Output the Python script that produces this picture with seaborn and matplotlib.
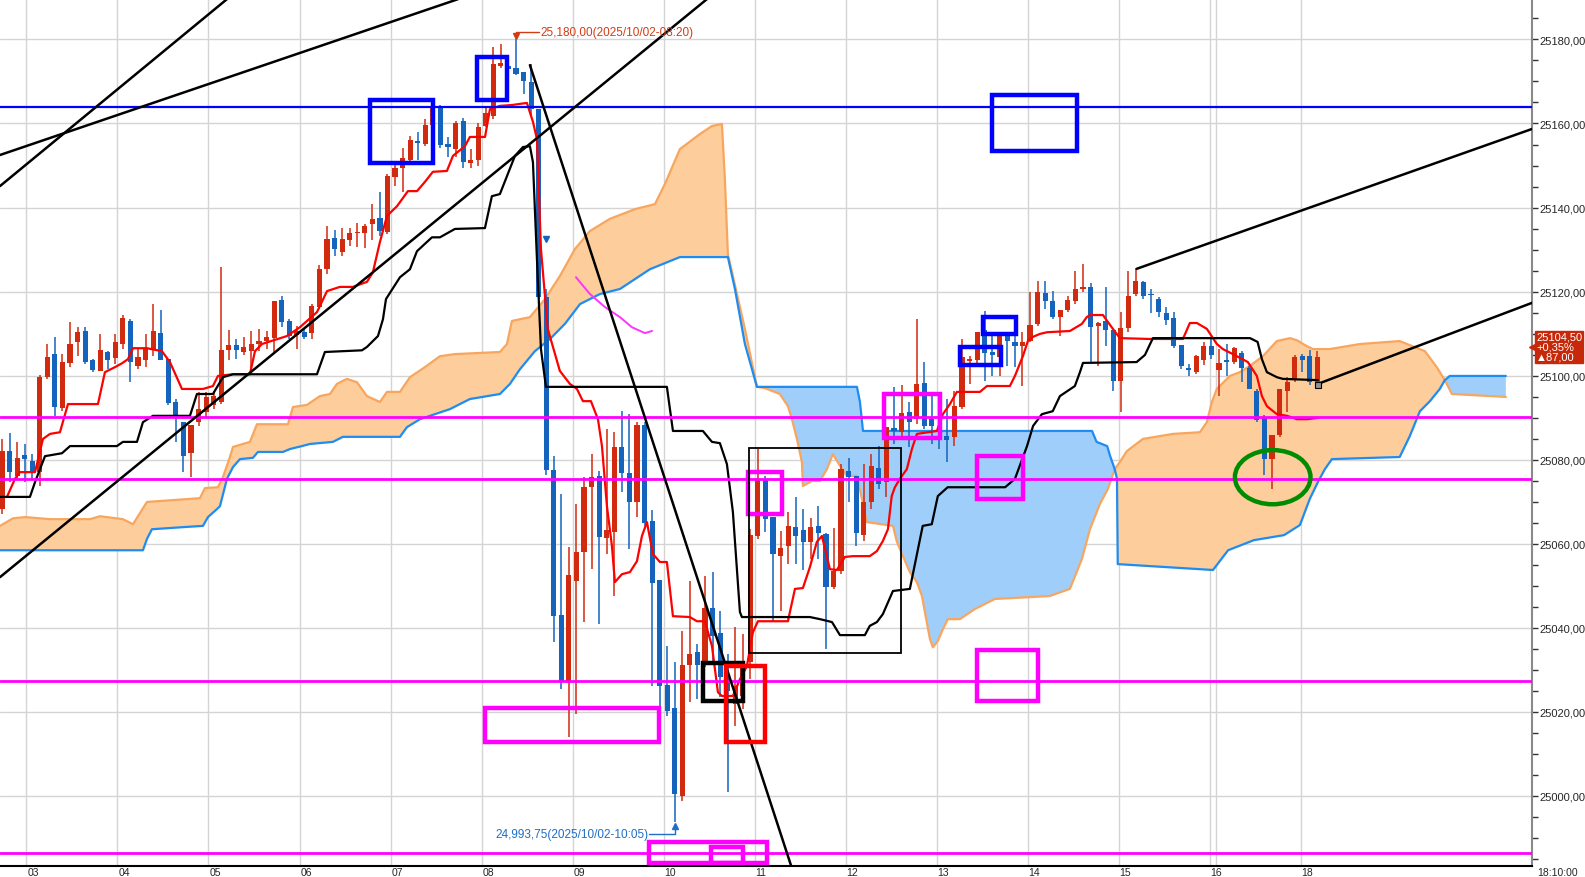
import numpy as np
import matplotlib
matplotlib.use("Agg")
import matplotlib.pyplot as plt
from matplotlib.patches import Rectangle, Ellipse
from matplotlib.ticker import MultipleLocator, FuncFormatter
import seaborn as sns

# 5분봉 (02:45 ~ 18:10), 봉 번호 = x
opens = [
    25068.2, 25082.0, 25076.1, 25081.1, 25079.6, 25077.0, 25099.6, 25105.1, 25092.3, 25102.9,
    25107.9, 25110.6, 25103.7, 25101.1, 25105.6, 25104.2, 25107.5, 25113.0, 25102.3, 25103.7,
    25106.3, 25110.1, 25103.9, 25093.7, 25088.9, 25081.5, 25088.9, 25091.3, 25093.0, 25093.7,
    25106.0, 25107.2, 25105.6, 25105.8, 25107.5, 25108.2, 25108.9, 25118.0, 25113.0, 25109.6,
    25110.3, 25110.1, 25116.3, 25125.3, 25132.7, 25129.4, 25132.2, 25133.9, 25133.9, 25136.1,
    25137.5, 25134.2, 25147.2, 25149.4, 25151.3, 25155.8, 25155.1, 25159.6, 25164.2, 25155.1,
    25153.9, 25160.6, 25150.6, 25151.3, 25159.4, 25161.8, 25173.7, 25173.7, 25173.2, 25172.3,
    25169.9, 25163.4, 25118.7, 25077.5, 25043.0, 25027.0, 25051.1, 25058.0, 25073.4, 25076.1,
    25061.3, 25062.7, 25082.9, 25076.8, 25069.9, 25088.2, 25065.3, 25051.3, 25026.3, 25020.8,
    24999.9, 25031.1, 25034.2, 25031.1, 25044.6, 25038.7, 25028.2, 25021.8, 25023.7, 25031.8,
    25061.8, 25075.4, 25066.3, 25057.0, 25059.4, 25063.9, 25063.2, 25060.3, 25064.2, 25062.2,
    25049.6, 25053.4, 25077.3, 25076.0, 25062.0, 25069.9, 25078.0, 25074.6, 25087.5, 25086.5,
    25091.3, 25089.6, 25098.2, 25089.6, 25085.6, 25085.6, 25085.4, 25092.5, 25103.4, 25103.7,
    25110.8, 25105.6, 25104.4, 25109.6, 25107.9, 25107.0, 25108.2, 25112.2, 25119.6, 25117.7,
    25113.9, 25115.6, 25117.7, 25120.6, 25121.1, 25111.8, 25113.0, 25110.8, 25098.7, 25111.3,
    25119.4, 25122.3, 25119.4, 25118.2, 25114.9, 25113.7, 25107.2, 25101.8, 25100.8, 25103.7,
    25107.0, 25101.3, 25103.7, 25103.2, 25105.4, 25101.8, 25096.3, 25090.1, 25080.1, 25085.8,
    25096.3, 25099.2, 25104.6, 25104.6, 25098.4]
highs = [
    25084.9, 25086.3, 25084.2, 25083.7, 25081.3, 25100.1, 25107.5, 25109.2, 25105.1, 25112.7,
    25111.5, 25111.5, 25103.9, 25109.9, 25105.8, 25109.9, 25114.4, 25113.4, 25106.3, 25109.9,
    25117.0, 25115.6, 25104.0, 25094.4, 25089.0, 25088.3, 25096.1, 25096.1, 25096.3, 25125.8,
    25110.8, 25108.7, 25109.2, 25110.6, 25111.1, 25110.6, 25117.8, 25118.9, 25113.4, 25111.8,
    25111.1, 25117.0, 25126.3, 25135.6, 25134.6, 25135.1, 25135.1, 25136.3, 25136.1, 25140.8,
    25143.7, 25148.0, 25150.1, 25154.2, 25157.0, 25158.0, 25161.1, 25163.8, 25164.3, 25156.8,
    25160.6, 25161.3, 25153.9, 25160.1, 25163.9, 25178.2, 25178.9, 25173.9, 25180.0, 25172.3,
    25174.2, 25163.5, 25120.6, 25080.8, 25071.8, 25059.2, 25069.4, 25075.8, 25081.3, 25077.3,
    25087.3, 25086.5, 25091.5, 25090.8, 25088.9, 25088.9, 25068.0, 25051.4, 25035.6, 25031.8,
    25039.2, 25051.1, 25036.1, 25052.3, 25053.2, 25043.9, 25033.7, 25040.1, 25038.4, 25063.4,
    25082.5, 25076.1, 25066.4, 25062.9, 25067.5, 25071.0, 25068.2, 25066.0, 25068.9, 25062.5,
    25063.7, 25078.9, 25080.4, 25076.1, 25078.9, 25081.3, 25083.2, 25087.8, 25097.2, 25097.7,
    25093.7, 25113.4, 25103.2, 25095.6, 25087.7, 25094.4, 25096.3, 25108.7, 25104.6, 25110.4,
    25115.3, 25109.9, 25110.4, 25109.9, 25109.4, 25110.4, 25119.9, 25122.5, 25122.5, 25120.1,
    25115.7, 25118.9, 25124.9, 25126.5, 25122.0, 25112.7, 25121.1, 25110.9, 25115.1, 25124.9,
    25125.6, 25122.5, 25120.6, 25118.7, 25116.3, 25115.1, 25107.3, 25102.7, 25104.9, 25107.9,
    25109.2, 25106.3, 25107.5, 25106.8, 25105.8, 25102.3, 25096.8, 25090.6, 25085.9, 25096.9,
    25099.6, 25104.9, 25105.1, 25106.0, 25105.8]
lows = [
    25067.0, 25074.6, 25075.4, 25074.6, 25075.4, 25073.7, 25099.2, 25090.4, 25091.5, 25102.0,
    25104.6, 25102.7, 25100.8, 25101.0, 25101.5, 25102.7, 25106.3, 25098.4, 25101.5, 25102.0,
    25104.6, 25103.6, 25093.0, 25084.2, 25077.0, 25075.8, 25088.0, 25090.1, 25092.0, 25093.2,
    25103.7, 25103.9, 25104.9, 25101.5, 25105.8, 25106.3, 25105.6, 25111.5, 25108.7, 25106.3,
    25108.7, 25108.7, 25115.8, 25124.2, 25128.4, 25128.4, 25130.8, 25130.6, 25130.3, 25132.2,
    25133.2, 25133.7, 25145.1, 25143.7, 25150.8, 25151.3, 25154.6, 25159.2, 25154.2, 25152.0,
    25152.0, 25149.4, 25149.4, 25149.9, 25159.2, 25161.1, 25173.2, 25172.5, 25171.5, 25167.0,
    25161.8, 25118.2, 25076.3, 25036.5, 25025.4, 25013.9, 25019.4, 25041.3, 25053.9, 25040.8,
    25057.5, 25047.5, 25072.3, 25058.7, 25066.3, 25064.2, 25026.1, 25021.3, 25018.9, 24993.75,
    24998.7, 25022.3, 25022.9, 25030.6, 25031.8, 25023.5, 25000.8, 25016.5, 25020.6, 25027.7,
    25061.1, 25062.7, 25041.5, 25043.9, 25055.1, 25055.1, 25053.7, 25056.3, 25056.3, 25034.9,
    25049.2, 25052.7, 25069.9, 25059.4, 25060.6, 25068.2, 25073.0, 25071.1, 25083.7, 25084.9,
    25082.9, 25088.4, 25087.3, 25083.7, 25082.5, 25079.4, 25083.2, 25092.0, 25098.0, 25102.7,
    25098.7, 25099.9, 25099.9, 25102.3, 25102.0, 25097.5, 25107.9, 25111.8, 25115.8, 25113.4,
    25109.4, 25115.1, 25117.0, 25119.9, 25103.2, 25102.3, 25107.0, 25096.3, 25091.3, 25110.3,
    25118.9, 25118.2, 25114.9, 25113.9, 25112.0, 25106.5, 25101.5, 25099.9, 25100.3, 25102.5,
    25103.9, 25095.1, 25099.9, 25102.7, 25098.4, 25096.7, 25088.9, 25076.3, 25073.0, 25085.4,
    25091.3, 25098.4, 25100.8, 25097.7, 25097.7]
closes = [
    25082.0, 25077.0, 25080.4, 25080.1, 25077.3, 25099.6, 25104.4, 25092.5, 25103.2, 25107.5,
    25110.3, 25103.2, 25101.3, 25106.0, 25103.7, 25107.9, 25113.7, 25103.2, 25104.4, 25106.5,
    25110.6, 25103.7, 25093.4, 25090.1, 25080.8, 25088.2, 25092.0, 25094.9, 25095.1, 25106.0,
    25107.2, 25106.0, 25106.8, 25107.5, 25108.2, 25109.2, 25117.7, 25112.7, 25109.4, 25110.6,
    25109.2, 25116.5, 25125.3, 25132.5, 25130.1, 25132.5, 25133.9, 25134.2, 25135.6, 25137.3,
    25134.4, 25147.5, 25149.4, 25151.8, 25156.1, 25155.3, 25159.6, 25163.7, 25154.9, 25154.4,
    25160.1, 25150.8, 25151.3, 25159.2, 25162.5, 25174.2, 25174.4, 25173.0, 25171.8, 25170.1,
    25163.4, 25118.7, 25077.5, 25042.7, 25027.0, 25052.5, 25058.0, 25073.4, 25075.8, 25061.5,
    25063.2, 25082.9, 25076.8, 25069.9, 25088.2, 25064.9, 25050.6, 25026.1, 25020.1, 25000.3,
    25031.1, 25033.7, 25031.1, 25044.6, 25037.9, 25028.2, 25024.9, 25026.1, 25031.3, 25062.0,
    25075.4, 25065.8, 25057.5, 25058.9, 25064.2, 25061.8, 25060.3, 25063.9, 25062.5, 25049.6,
    25053.4, 25077.7, 25075.8, 25062.5, 25069.9, 25078.4, 25074.2, 25087.7, 25086.8, 25091.1,
    25088.9, 25098.0, 25088.0, 25088.0, 25084.9, 25084.6, 25092.7, 25104.4, 25103.9, 25110.3,
    25105.4, 25104.9, 25109.6, 25108.2, 25107.0, 25107.9, 25112.0, 25119.9, 25117.7, 25113.9,
    25115.6, 25118.0, 25120.6, 25121.1, 25111.5, 25112.5, 25110.8, 25098.7, 25111.3, 25118.9,
    25122.5, 25118.9, 25119.1, 25115.1, 25113.2, 25107.0, 25102.3, 25101.3, 25104.6, 25107.0,
    25104.9, 25103.0, 25103.2, 25106.5, 25101.8, 25096.8, 25089.4, 25080.1, 25085.8, 25096.8,
    25098.4, 25104.4, 25103.7, 25098.4, 25104.5]

# 전환선 (빨강)
tenkan_x = [0.66, 1.72, 2.38, 4.37, 5.42, 6.35, 7.67, 8.73, 12.7, 13.62, 14.95, 15.87, 16.67, 17.33,
            19.18, 21.16, 22.22, 23.81, 26.59, 27.91, 28.57, 30.56, 32.8, 33.47, 34.39, 37.7, 39.42,
            41.67, 43.0, 44.7, 46.43, 48.28, 49.07, 50.0, 50.93, 52.25, 53.7, 54.9, 55.95, 57.0,
            58.86, 59.66, 61.24, 61.9, 63.9, 64.55, 65.87, 67.46, 69.44, 70.24, 70.77, 71.3, 72.2,
            73.8, 75.13, 76.06, 76.85, 77.91, 78.84, 79.37, 80.03, 80.69, 81.08, 82.01, 83.07, 84.0,
            84.66, 85.32, 86.11, 87.04, 87.96, 88.76, 91.0, 91.93, 92.99, 93.92, 94.71, 95.24, 96.69,
            97.62, 98.54, 99.34, 100.0, 103.97, 104.9, 105.95, 106.88, 107.8, 108.47, 109.52,
            110.45, 111.5, 112.57, 114.8, 115.74, 116.53, 117.2, 117.7, 118.12, 118.78, 119.7,
            120.37, 121.03, 123.68, 124.47, 125.4, 126.32, 127.12, 129.37, 130.3, 133.33, 134.0,
            135.05, 135.71, 136.38, 137.3, 138.23, 141.27, 142.86, 143.5, 143.92, 145.64, 146.96,
            147.88, 151.85, 156.22, 157.14, 158.07, 159.39, 160.71, 161.5, 162.83, 164.81, 166.0,
            166.67, 167.33, 168.65, 170.0, 171.3, 172.6, 174.07]
tenkan_y = [25071.1, 25075.4, 25077.0, 25077.0, 25084.9, 25086.1, 25086.5, 25093.2, 25093.2, 25100.8,
            25102.0, 25102.9, 25103.9, 25106.5, 25106.5, 25105.8, 25103.2, 25096.8, 25096.8, 25097.5,
            25099.9, 25100.3, 25100.3, 25105.8, 25107.5, 25109.4, 25111.5, 25115.1, 25120.1, 25121.1,
            25121.1, 25122.3, 25124.6, 25131.8, 25138.0, 25140.3, 25143.9, 25143.9, 25146.1, 25148.5,
            25148.7, 25152.3, 25154.6, 25156.8, 25156.8, 25163.4, 25164.2, 25164.4, 25164.9, 25160.4,
            25156.3, 25130.1, 25111.1, 25101.1, 25098.0, 25096.8, 25093.9, 25093.9, 25089.6, 25083.2,
            25068.9, 25059.4, 25050.8, 25052.7, 25053.2, 25055.8, 25061.8, 25065.1, 25057.5, 25055.6,
            25055.6, 25042.7, 25042.5, 25041.5, 25041.5, 25035.6, 25024.6, 25023.7, 25023.7, 25027.7,
            25030.8, 25038.9, 25041.5, 25041.5, 25049.2, 25049.4, 25054.4, 25060.4, 25061.8, 25053.9,
            25053.7, 25056.8, 25057.0, 25057.0, 25058.2, 25060.6, 25063.4, 25071.3, 25073.4, 25075.4,
            25077.7, 25082.5, 25086.1, 25086.8, 25090.8, 25093.2, 25096.1, 25096.1, 25096.1, 25097.5,
            25097.5, 25099.9, 25104.6, 25108.2, 25109.2, 25109.9, 25110.3, 25110.6, 25112.3, 25113.9,
            25114.4, 25114.4, 25111.1, 25108.9, 25108.7, 25108.7, 25112.5, 25112.5, 25111.1, 25107.5,
            25106.3, 25105.1, 25103.2, 25099.9, 25095.1, 25092.7, 25090.8, 25090.4, 25089.6, 25089.6,
            25089.9]

# 기준선 (검정)
kijun_x = [-0.26, 3.7, 4.37, 5.69, 7.94, 9.0, 15.2, 16.0, 17.86, 18.65, 19.97, 24.87, 25.79, 27.91,
           29.23, 30.56, 41.67, 42.72, 47.62, 48.28, 49.74, 50.4, 50.8, 52.65, 53.97, 54.9, 56.88,
           57.94, 59.92, 63.89, 64.81, 65.87, 67.86, 68.92, 69.84, 70.24, 70.77, 71.3, 71.96, 87.96,
           88.76, 92.72, 93.92, 94.97, 95.9, 96.69, 97.62, 97.88, 106.88, 108.2, 109.8, 110.85,
           114.15, 114.8, 115.74, 116.53, 117.86, 120.1, 121.8, 123.0, 123.8, 125.1, 132.7, 134.0,
           135.6, 136.4, 137.57, 139.0, 139.95, 141.93, 142.6, 143.0, 150.1, 151.2, 152.25, 165.1,
           166.1, 166.67, 167.33, 168.65, 169.44, 174.07]
kijun_y = [25071.1, 25071.1, 25074.6, 25080.8, 25081.5, 25083.2, 25083.2, 25084.2, 25084.2, 25088.9,
           25090.4, 25090.4, 25095.6, 25095.6, 25099.6, 25100.3, 25100.3, 25105.6, 25106.0, 25106.8,
           25109.4, 25113.4, 25118.2, 25123.4, 25125.3, 25129.6, 25132.9, 25132.9, 25134.9, 25135.1,
           25142.7, 25143.2, 25152.3, 25154.4, 25154.6, 25150.8, 25127.7, 25106.3, 25097.3, 25097.3,
           25086.8, 25086.8, 25084.2, 25083.9, 25078.9, 25067.5, 25043.7, 25042.5, 25042.5, 25042.0,
           25041.3, 25038.2, 25038.2, 25040.4, 25041.3, 25043.2, 25048.7, 25049.2, 25064.2, 25064.6,
           25071.3, 25073.4, 25073.4, 25075.4, 25083.2, 25088.0, 25090.8, 25091.5, 25095.1, 25097.5,
           25100.8, 25103.0, 25103.2, 25104.9, 25108.9, 25108.9, 25108.0, 25103.9, 25100.8, 25099.6,
           25099.2, 25098.9]

# 선행스팬 1 (주황) / 선행스팬 2 (파랑)
span_a_x = [-0.26, 1.46, 3.04, 6.35, 11.64, 12.96, 16.0, 17.33, 19.18, 26.19, 26.85, 28.57, 29.23,
            30.16, 30.56, 32.8, 33.73, 37.83, 38.49, 40.34, 42.06, 43.39, 44.31, 45.63, 46.96, 48.28,
            50.0, 50.93, 52.65, 53.97, 55.95, 57.94, 59.92, 65.87, 66.8, 67.46, 69.84, 71.83, 73.81,
            75.79, 77.78, 80.42, 83.73, 86.38, 87.7, 89.68, 92.33, 93.92, 95.24, 95.63, 96.03, 98.28,
            99.87, 100.93, 102.9, 103.97, 104.5, 105.16, 105.82, 105.95, 107.14, 108.2, 109.13,
            109.92, 110.85, 111.77, 113.1, 114.42, 117.86, 118.39, 119.18, 120.1, 121.03, 121.7,
            122.75, 123.15, 123.8, 124.47, 125.13, 126.72, 128.7, 131.35, 133.47, 138.6, 141.27,
            142.86, 143.92, 145.24, 146.3, 147.2, 147.88, 148.8, 150.93, 154.9, 158.47, 159.39,
            160.05, 160.71, 162.43, 163.76, 165.08, 166.8, 168.65, 170.37, 171.3, 172.6, 173.4,
            175.66, 179.63, 184.9, 188.23, 189.8, 190.87, 191.8, 198.94]
span_a_y = [25064.2, 25066.0, 25066.3, 25065.8, 25065.8, 25066.5, 25065.8, 25064.6, 25069.9, 25070.8,
            25073.2, 25073.4, 25075.8, 25080.6, 25083.0, 25084.2, 25088.4, 25088.4, 25092.5, 25093.0,
            25095.1, 25095.6, 25098.0, 25099.2, 25098.4, 25095.1, 25093.7, 25096.1, 25096.1, 25099.6,
            25102.0, 25104.6, 25105.1, 25105.6, 25107.5, 25113.0, 25113.9, 25118.2, 25123.7, 25130.1,
            25134.4, 25137.3, 25139.6, 25140.8, 25145.6, 25153.9, 25157.5, 25159.4, 25159.9, 25146.8,
            25128.9, 25111.1, 25097.3, 25097.0, 25095.6, 25092.7, 25089.6, 25084.9, 25079.4, 25073.7,
            25074.9, 25074.9, 25077.7, 25081.3, 25078.5, 25076.1, 25076.1, 25065.1, 25064.2, 25060.4,
            25057.0, 25053.2, 25050.8, 25047.5, 25037.3, 25035.3, 25036.8, 25039.6, 25042.0, 25042.0,
            25044.4, 25046.8, 25047.0, 25047.5, 25049.2, 25056.3, 25063.4, 25069.4, 25073.0, 25077.7,
            25079.4, 25082.0, 25084.9, 25086.1, 25086.5, 25088.9, 25093.7, 25096.8, 25099.9, 25100.8,
            25102.3, 25104.6, 25108.2, 25108.9, 25108.4, 25107.0, 25106.3, 25106.3, 25107.5, 25108.2,
            25105.8, 25102.0, 25098.9, 25095.6, 25094.9]
span_b_x = [-0.26, 18.65, 19.18, 19.84, 23.94, 26.59, 27.25, 28.44, 28.84, 29.76, 30.56, 31.48, 33.2,
            33.86, 37.17, 38.1, 39.68, 40.74, 43.78, 45.1, 52.65, 53.57, 55.29, 59.26, 61.9, 65.87,
            67.2, 68.52, 70.5, 72.5, 74.47, 76.46, 79.1, 81.75, 85.71, 89.68, 96.03, 96.96, 98.28,
            99.87, 113.1, 113.5, 113.9, 144.2, 144.8, 146.2, 146.6, 147.2, 147.5, 147.6, 160.2,
            162.2, 165.6, 169.6, 171.7, 173.0, 174.07, 175.0, 175.93, 184.9, 186.24, 187.57, 188.9,
            190.2, 190.87, 191.53, 198.94]
span_b_y = [25058.4, 25058.4, 25061.1, 25063.4, 25063.9, 25064.2, 25066.3, 25068.2, 25068.9, 25075.4,
            25078.2, 25080.1, 25080.4, 25081.8, 25081.8, 25082.5, 25083.2, 25083.7, 25084.2, 25085.4,
            25085.4, 25087.7, 25089.6, 25092.0, 25094.4, 25095.6, 25098.0, 25101.5, 25105.8, 25108.7,
            25112.3, 25117.0, 25119.4, 25120.6, 25125.3, 25128.2, 25128.2, 25120.6, 25107.5, 25097.3,
            25097.3, 25093.7, 25086.8, 25086.8, 25084.2, 25083.2, 25080.8, 25077.7, 25075.4, 25055.1,
            25053.7, 25058.4, 25060.8, 25062.0, 25064.4, 25070.6, 25074.6, 25077.7, 25080.1, 25080.6,
            25085.6, 25091.5, 25093.9, 25096.8, 25098.9, 25099.9, 25099.9]
cloud_cross = [-0.26, 99.87, 147.2, 190.87, 198.94]

# 보조선 (분홍)
pink_x = [75.93, 77.78, 79.76, 81.75, 83.33, 85.05, 86.0]
pink_y = [25123.4, 25119.4, 25116.3, 25113.9, 25111.5, 25110.1, 25110.6]

# 추세선
trend_lines = [
    ((-0.26, 25145.1), (29.76, 25189.6)),
    ((-0.26, 25152.5), (60.32, 25189.6)),
    ((-0.26, 25052.0), (93.25, 25189.6)),
    ((69.84, 25173.9), (104.37, 24983.4)),
    ((150.1, 25125.4), (202.4, 25158.7)),
    ((174.07, 25098.0), (202.4, 25117.3)),
]
blue_levels = [25164.0]
pink_levels = [25090.2, 25075.4, 25027.3, 24986.3]

# 박스 (x0, x1, y0, y1)
blue_boxes = [(48.7, 57.0, 25150.6, 25165.6), (62.8, 66.8, 25165.6, 25175.8),
              (130.95, 142.2, 25153.5, 25166.8), (126.7, 132.1, 25102.5, 25106.8),
              (129.8, 134.1, 25109.9, 25113.9)]
pink_boxes = [(116.7, 124.1, 25085.1, 25095.6), (98.7, 103.2, 25067.0, 25077.0),
              (129.0, 135.05, 25070.6, 25080.8), (129.0, 137.0, 25022.5, 25034.6),
              (63.9, 86.9, 25012.7, 25020.8), (85.6, 101.2, 24983.9, 24988.9),
              (93.8, 98.0, 24983.9, 24987.7)]
black_boxes = [(92.7, 98.0, 25022.5, 25031.5)]
red_boxes = [(95.8, 100.9, 25012.7, 25030.8)]
thin_box = (98.8, 118.9, 25033.9, 25082.7)
circle = (168.1, 25075.8, 10.0, 12.9)

hour_labels = ['03', '04', '05', '06', '07', '08', '09', '10', '11', '12', '13', '14', '15', '16', '18']
price_min, price_max = 24983.3, 25189.64

# ---------------------------------------------------------------
sns.set_style("white")
plt.rcParams['font.family'] = ['Liberation Sans', 'DejaVu Sans']

fig = plt.figure(figsize=(15.85, 8.78), dpi=100)
ax = fig.add_axes([0, 11.3 / 878, 1532 / 1585, 866.7 / 878])
ax.set_xlim(-0.26, 202.4)
ax.set_ylim(price_min, price_max)

x = np.arange(len(opens))
o = np.array(opens); h = np.array(highs); l = np.array(lows); c = np.array(closes)

# 그리드
hour_pos = [3.24 + 12.04 * i for i in range(len(hour_labels))]
for p in range(25000, 25181, 20):
    ax.axhline(p, color='#d4d4d4', lw=1, zorder=0)
for hp in hour_pos + [160.6]:
    ax.axvline(hp, color='#d4d4d4', lw=1, zorder=0)

# 구름
ax_ = np.array(span_a_x); ay_ = np.array(span_a_y)
bx_ = np.array(span_b_x); by_ = np.array(span_b_y)
fills = ['#FDCD9B', '#A0CEFA']
for i in range(len(cloud_cross) - 1):
    lo, hi = cloud_cross[i], cloud_cross[i + 1]
    ma = (ax_ >= lo) & (ax_ <= hi)
    mb = (bx_ >= lo) & (bx_ <= hi)
    px = np.concatenate([ax_[ma], bx_[mb][::-1]])
    py = np.concatenate([ay_[ma], by_[mb][::-1]])
    ax.fill(px, py, color=fills[i % 2], lw=0, zorder=1)
sns.lineplot(x=span_a_x, y=span_a_y, ax=ax, color='#F8A65E', lw=1.6, estimator=None, sort=False, zorder=1.5)
sns.lineplot(x=span_b_x, y=span_b_y, ax=ax, color='#1E8CF0', lw=1.6, estimator=None, sort=False, zorder=1.5)

# 캔들
up = c >= o
col = np.where(up, '#D22A0E', '#1464BE')
ax.vlines(x, l, h, colors=col, lw=1.1, zorder=3)
body_h = np.maximum(np.abs(c - o), 0.3)
ax.bar(x, body_h, bottom=np.minimum(o, c), width=0.68, color=col, lw=0, zorder=3.1)

# 전환선/기준선
sns.lineplot(x=tenkan_x, y=tenkan_y, ax=ax, color='#FF0000', lw=1.6, estimator=None, sort=False, zorder=4)
sns.lineplot(x=kijun_x, y=kijun_y, ax=ax, color='black', lw=1.6, estimator=None, sort=False, zorder=4)
sns.lineplot(x=pink_x, y=pink_y, ax=ax, color='#FF33FF', lw=1.4, estimator=None, sort=False, zorder=4)
ax.plot(kijun_x[-1], 25097.8, marker='s', ms=5, mfc='#909090', mec='black', mew=0.8, zorder=6)
ax.plot(71.96, 25132.5, marker='v', ms=5, color='#1464BE', zorder=6)

# 수평선
for lv in blue_levels:
    ax.axhline(lv, color='#0000FF', lw=1.6, zorder=4.5)
for lv in pink_levels:
    ax.axhline(lv, color='#FF00FF', lw=2, zorder=4.5)

# 추세선
for (x0, y0), (x1, y1) in trend_lines:
    ax.plot([x0, x1], [y0, y1], color='black', lw=1.8, zorder=5)

# 박스
def box(b, color, lw):
    ax.add_patch(Rectangle((b[0], b[2]), b[1] - b[0], b[3] - b[2], fill=False,
                           ec=color, lw=lw, zorder=6, joinstyle='miter'))

for b in blue_boxes:
    box(b, '#0000FF', 3.2)
for b in pink_boxes:
    box(b, '#FF00FF', 3.2)
for b in black_boxes:
    box(b, 'black', 3.2)
for b in red_boxes:
    box(b, '#FF0000', 3.2)
box(thin_box, 'black', 1.3)
ax.add_patch(Ellipse((circle[0], circle[1]), circle[2], circle[3], fill=False,
                     ec='#008C00', lw=3.2, zorder=6))

# 최고/최저 표시
hi_i = int(np.argmax(h)); lo_i = int(np.argmin(l))
ax.plot([hi_i, hi_i, hi_i + 3.1], [h[hi_i] + 0.4, h[hi_i] + 1.8, h[hi_i] + 1.8], color='#D23C14', lw=1, zorder=6)
ax.plot(hi_i, h[hi_i] + 0.8, marker='v', ms=4, color='#D23C14', zorder=6)
ax.text(hi_i + 3.2, h[hi_i] + 1.8, '25,180,00(2025/10/02-08:20)', color='#D23C14',
        fontsize=8.5, va='center', ha='left', zorder=7)
ax.plot([lo_i, lo_i, lo_i - 3.4], [l[lo_i] - 0.6, l[lo_i] - 3.0, l[lo_i] - 3.0], color='#1E6EC8', lw=1, zorder=6)
ax.plot(lo_i, l[lo_i] - 1.0, marker='^', ms=4, color='#1E6EC8', zorder=6)
ax.text(lo_i - 3.5, l[lo_i] - 3.0, '24,993,75(2025/10/02-10:05)', color='#1E6EC8',
        fontsize=8.5, va='center', ha='right', zorder=7)

# 축
for s in ['top', 'left']:
    ax.spines[s].set_visible(False)
ax.spines['right'].set_color('#8a8a8a')
ax.spines['right'].set_linewidth(1.5)
ax.spines['bottom'].set_color('black')
ax.spines['bottom'].set_linewidth(1.5)
ax.yaxis.tick_right()
ax.yaxis.set_major_locator(MultipleLocator(20))
ax.yaxis.set_minor_locator(MultipleLocator(5))
ax.yaxis.set_major_formatter(FuncFormatter(lambda v, _: f"{v:.2f}".replace('.', ',')))
ax.tick_params(axis='y', which='both', direction='out', length=4, width=1, color='#333333',
               labelsize=8, pad=1, left=False, right=True)
ax.set_xticks(hour_pos)
ax.set_xticklabels([])
ax.tick_params(axis='x', direction='out', length=5, width=1, color='black')
for hp, lab in zip(hour_pos, hour_labels):
    ax.annotate(lab, xy=(hp, 0), xycoords=('data', 'axes fraction'), xytext=(1, -11.3),
                textcoords='offset pixels', fontsize=7.5, va='bottom', ha='left',
                annotation_clip=False)
ax.annotate('18:10:00', xy=(1.0, 0), xycoords='axes fraction', xytext=(5, -11.3),
            textcoords='offset pixels', fontsize=7.5, va='bottom', ha='left', annotation_clip=False)
ax.set_xlabel('')
ax.set_ylabel('')

# 현재가 태그
ax.plot(1.0, c[-1] + 2.4, marker='<', ms=5, color='#C8280A', clip_on=False, zorder=10,
        transform=ax.get_yaxis_transform())
ax.annotate('25104,50\n+0,35%\n\u25b287,00', xy=(1.0, c[-1]), xycoords=('axes fraction', 'data'),
            xytext=(4, 10), textcoords='offset pixels', color='white', fontsize=8,
            va='center', ha='left', linespacing=1.0, annotation_clip=False, zorder=10,
            bbox=dict(boxstyle='square,pad=0.1', fc='#C8280A', ec='#C8280A'))

fig.savefig('out.png', dpi=100)
